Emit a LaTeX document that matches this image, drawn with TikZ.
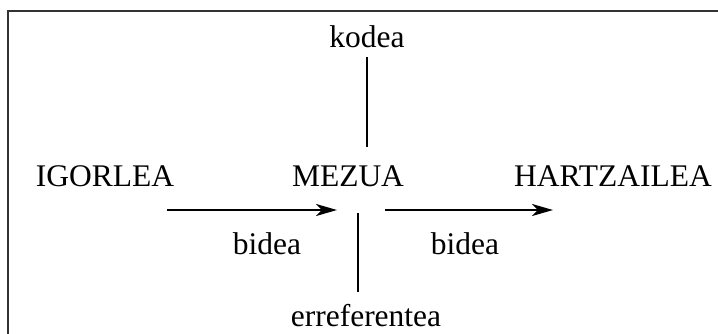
\documentclass[tikz,border=0pt]{standalone}
\usepackage{fontspec}
\setmainfont{Liberation Serif}
\usetikzlibrary{arrows.meta}
\begin{document}
\begin{tikzpicture}[x=1pt,y=-1pt,
  lbl/.style={anchor=base,inner sep=0pt,font=\fontsize{31.5}{31.5}\selectfont},
  link/.style={line width=2.4pt},
  flow/.style={line width=2.4pt,-{Stealth[length=21pt,width=12pt,inset=6pt]}},
  frame/.style={line width=1.6pt,draw=black!80}]
\useasboundingbox (0,0) rectangle (718,333);
% partial frame
\draw[frame] (8,340) -- (8,10.7) -- (730,10.7);
% labels
\node[lbl] (kodea) at (367,47) {kodea};
\node[lbl] (igorlea) at (105,186) {IGORLEA};
\node[lbl] (mezua) at (348,186) {MEZUA};
\node[lbl] (hartzailea) at (613,186) {HARTZAILEA};
\node[lbl] (bideaL) at (267,254) {bidea};
\node[lbl] (bideaR) at (465,254) {bidea};
\node[lbl] (erref) at (366,326) {erreferentea};
% connector ends
\coordinate (kTop) at (367,57);
\coordinate (kBot) at (367,147);
\coordinate (aL1) at (167,210);
\coordinate (aL2) at (337,210);
\coordinate (aR1) at (385,210);
\coordinate (aR2) at (553,210);
\coordinate (eTop) at (358,213);
\coordinate (eBot) at (358,292);
% connectors
\draw[link] (kTop) -- (kBot);
\draw[flow] (aL1) -- (aL2);
\draw[flow] (aR1) -- (aR2);
\draw[link] (eTop) -- (eBot);
\end{tikzpicture}
\end{document}
